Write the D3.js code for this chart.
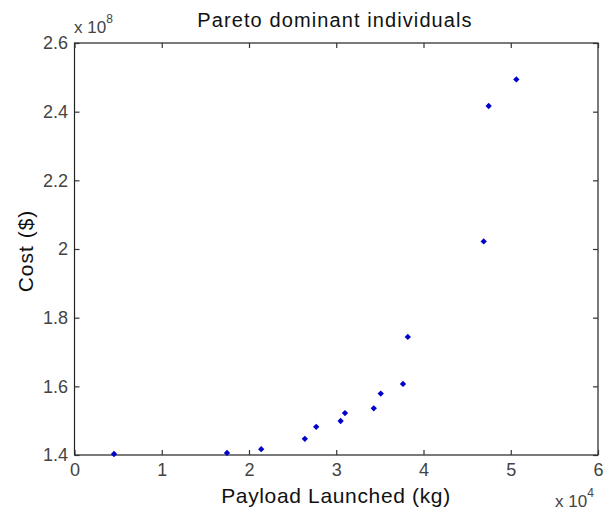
<!DOCTYPE html>
<html><head><meta charset="utf-8">
<script src="https://cdn.jsdelivr.net/npm/d3@7"></script>
<style>body{margin:0;background:#fff;} text{font-family:"Liberation Sans",Arial,sans-serif;}</style>
</head><body>
<svg id="c" width="610" height="512"></svg>
<script>
const payload = [4530, 17480, 21400, 26400, 27700, 30500, 31000, 34300, 35100, 37650, 38200, 46900, 47470, 50640];
const cost = [1.403e8, 1.406e8, 1.417e8, 1.447e8, 1.482e8, 1.499e8, 1.522e8, 1.536e8, 1.579e8, 1.607e8, 1.744e8, 2.022e8, 2.4166e8, 2.494e8];
const xTicks = [0, 1, 2, 3, 4, 5, 6];
const yTicks = [1.4, 1.6, 1.8, 2, 2.2, 2.4, 2.6];

const svg = d3.select("#c");
const L = 74.5, R = 598, T = 43, B = 455;
const x = d3.scaleLinear().domain([0, 6e4]).range([L, R]);
const y = d3.scaleLinear().domain([1.4e8, 2.6e8]).range([B, T]);

const tickCol = "#333";
const labCol = "#444";
svg.append("rect").attr("x", L).attr("y", T).attr("width", R - L).attr("height", B - T)
  .attr("fill", "none").attr("stroke", "#222").attr("stroke-width", 1.2);

const xa = svg.append("g").attr("transform", `translate(0,${B})`)
  .call(d3.axisBottom(x).tickValues(xTicks.map(d => d * 1e4)).tickFormat((d, i) => xTicks[i]).tickSizeInner(-5).tickSizeOuter(0).tickPadding(8));
const xt = svg.append("g").attr("transform", `translate(0,${T})`)
  .call(d3.axisTop(x).tickValues(xTicks.map(d => d * 1e4)).tickFormat("").tickSizeInner(-5).tickSizeOuter(0));
const ya = svg.append("g").attr("transform", `translate(${L},0)`)
  .call(d3.axisLeft(y).tickValues(yTicks.map(d => d * 1e8)).tickFormat((d, i) => yTicks[i]).tickSizeInner(-5).tickSizeOuter(0).tickPadding(6.5));
const yr = svg.append("g").attr("transform", `translate(${R},0)`)
  .call(d3.axisRight(y).tickValues(yTicks.map(d => d * 1e8)).tickFormat("").tickSizeInner(-5).tickSizeOuter(0));
[xa, xt, ya, yr].forEach(g => {
  g.select(".domain").remove();
  g.selectAll("line").attr("stroke", tickCol).attr("stroke-width", 1.2);
  g.selectAll("text").attr("fill", labCol).style("font-size", "18px").style("font-family", "Liberation Sans, Arial, sans-serif");
});
xa.selectAll("text").attr("dy", "0.71em");

// points
svg.append("g").selectAll("path").data(payload).join("path")
  .attr("transform", (d, i) => `translate(${x(d)},${y(cost[i])}) rotate(45)`)
  .attr("d", d3.symbol(d3.symbolSquare, 20))
  .attr("fill", "#0000cc");

// title
svg.append("text").attr("x", 335).attr("y", 27).attr("text-anchor", "middle")
  .style("font-size", "20px").style("letter-spacing", "1.1px").attr("fill", "#111").text("Pareto dominant individuals");
// axis labels
svg.append("text").attr("x", 336).attr("y", 503).attr("text-anchor", "middle")
  .style("font-size", "21px").style("letter-spacing", "0.65px").attr("fill", "#111").text("Payload Launched (kg)");
svg.append("text").attr("transform", "translate(33,251) rotate(-90)").attr("text-anchor", "middle")
  .style("font-size", "21px").style("letter-spacing", "1px").attr("fill", "#111").text("Cost ($)");

// exponent labels
const e1 = svg.append("text").attr("x", 74).attr("y", 33).style("font-size", "17px").attr("fill", labCol);
e1.append("tspan").text("x 10");
e1.append("tspan").attr("dy", -10).style("font-size", "12px").text("8");
const e2 = svg.append("text").attr("x", 555).attr("y", 507).style("font-size", "17px").attr("fill", labCol);
e2.append("tspan").text("x 10");
e2.append("tspan").attr("dy", -10).style("font-size", "12px").text("4");
</script>
</body></html>
